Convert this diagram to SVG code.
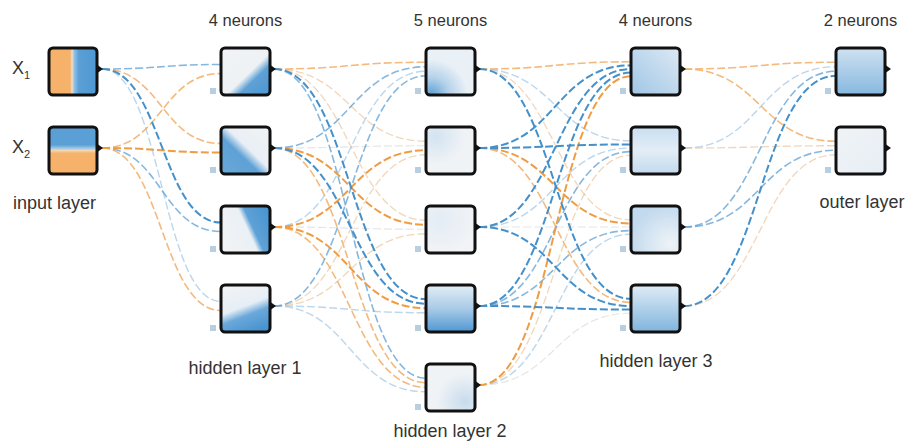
<svg xmlns="http://www.w3.org/2000/svg" width="907" height="443" viewBox="0 0 907 443">
<style>
.l{fill:none;stroke-dasharray:8 3}
.f{stroke:#cfcfcf;stroke-opacity:.55;stroke-width:1.2}
.ol{stroke:#eac49c;stroke-opacity:.7;stroke-width:1.3}
.bl{stroke:#8fbbdf;stroke-opacity:.6;stroke-width:1.4}
.om{stroke:#f1a85c;stroke-opacity:.8;stroke-width:1.6}
.bm{stroke:#5d9fd3;stroke-opacity:.75;stroke-width:1.6}
.os{stroke:#ef9c44;stroke-width:2}
.bs{stroke:#4490cb;stroke-width:2}
.box{stroke:#111;stroke-width:3}
.tri{fill:#111}
.sq{fill:#b9cfe0}
.t{font-family:"Liberation Sans",Arial,sans-serif;font-size:18px;fill:#333}
.tn{font-family:"Liberation Sans",Arial,sans-serif;font-size:16.5px;fill:#333;text-anchor:middle}
</style>
<defs>
<linearGradient id="gx1" x1="0" y1="0" x2="1" y2="0"><stop offset="0" stop-color="#f6b26b"/><stop offset=".44" stop-color="#f6b26b"/><stop offset=".48" stop-color="#f2ddc5"/><stop offset=".53" stop-color="#8ec0e6"/><stop offset=".62" stop-color="#5a9fd6"/><stop offset="1" stop-color="#4f98d2"/></linearGradient>
<linearGradient id="gx2" x1="0" y1="0" x2="0" y2="1"><stop offset="0" stop-color="#5a9fd6"/><stop offset=".38" stop-color="#5a9fd6"/><stop offset=".46" stop-color="#a7cbe8"/><stop offset=".5" stop-color="#f5d5b0"/><stop offset=".56" stop-color="#f6b26b"/><stop offset="1" stop-color="#f6b26b"/></linearGradient>
<linearGradient id="g11" x1="0" y1="0" x2="1" y2="1"><stop offset="0" stop-color="#f1f3f5"/><stop offset=".55" stop-color="#eef2f5"/><stop offset=".68" stop-color="#5ea1d6"/><stop offset="1" stop-color="#4b96d2"/></linearGradient>
<linearGradient id="g12" x1="1" y1="0" x2="0" y2="1"><stop offset="0" stop-color="#f1f3f5"/><stop offset=".45" stop-color="#e9eff5"/><stop offset=".6" stop-color="#5ea1d6"/><stop offset="1" stop-color="#6aa8da"/></linearGradient>
<linearGradient id="g13" x1=".1" y1=".72" x2="1" y2=".32"><stop offset="0" stop-color="#f1f3f5"/><stop offset=".5" stop-color="#eaf0f5"/><stop offset=".62" stop-color="#5ea1d6"/><stop offset="1" stop-color="#4b96d2"/></linearGradient>
<linearGradient id="g14" x1=".3" y1="0" x2=".7" y2="1"><stop offset="0" stop-color="#f1f3f5"/><stop offset=".45" stop-color="#e6eef5"/><stop offset=".64" stop-color="#6aa8da"/><stop offset="1" stop-color="#4793d0"/></linearGradient>
<radialGradient id="g21" cx=".1" cy="1" r=".75"><stop offset="0" stop-color="#5ba0d6"/><stop offset=".5" stop-color="#b5d2ea"/><stop offset="1" stop-color="#e9f0f6"/></radialGradient>
<radialGradient id="g22" cx=".2" cy=".2" r=".6"><stop offset="0" stop-color="#d3e3f0"/><stop offset="1" stop-color="#f0f3f6"/></radialGradient>
<radialGradient id="g23" cx=".3" cy=".3" r=".7"><stop offset="0" stop-color="#e3ecf4"/><stop offset="1" stop-color="#f1f3f6"/></radialGradient>
<linearGradient id="g24" x1="0" y1="0" x2="0" y2="1"><stop offset="0" stop-color="#e3edf5"/><stop offset=".5" stop-color="#a9cbe7"/><stop offset="1" stop-color="#4f98d3"/></linearGradient>
<radialGradient id="g25" cx=".8" cy=".8" r=".6"><stop offset="0" stop-color="#c8dced"/><stop offset="1" stop-color="#f0f3f6"/></radialGradient>
<linearGradient id="g31" x1="0" y1="1" x2="1" y2="0"><stop offset="0" stop-color="#9fc6e6"/><stop offset="1" stop-color="#dde9f3"/></linearGradient>
<linearGradient id="g32" x1="0" y1="0" x2="0" y2="1"><stop offset="0" stop-color="#c9def0"/><stop offset=".5" stop-color="#e3edf6"/><stop offset="1" stop-color="#c2daee"/></linearGradient>
<radialGradient id="g33" cx=".8" cy=".8" r=".8"><stop offset="0" stop-color="#eef3f7"/><stop offset="1" stop-color="#c3daee"/></radialGradient>
<linearGradient id="g34" x1="0" y1="0" x2="0" y2="1"><stop offset="0" stop-color="#e0ecf5"/><stop offset="1" stop-color="#7fb4de"/></linearGradient>
<linearGradient id="go1" x1="0" y1="0" x2="0" y2="1"><stop offset="0" stop-color="#cfe1f0"/><stop offset="1" stop-color="#86b8e0"/></linearGradient>
<linearGradient id="go2" x1="0" y1="0" x2="1" y2="1"><stop offset="0" stop-color="#f0f3f6"/><stop offset="1" stop-color="#e6eef5"/></linearGradient>
</defs>
<rect width="907" height="443" fill="#fff"/>
<g id="connectors">
<path class="l f" d="M274,148 C350,148 350,145.75 426,145.75"/>
<path class="l f" d="M274,227 C350,227 350,229.25 426,229.25"/>
<path class="l f" d="M479,227 C555,227 555,227 631,227"/>
<path class="l f" d="M479,385 C555,385 555,313.2 631,313.2"/>
<path class="l ol" d="M274,69 C350,69 350,141.25 426,141.25"/>
<path class="l ol" d="M274,69 C350,69 350,220.25 426,220.25"/>
<path class="l ol" d="M274,306 C350,306 350,154.75 426,154.75"/>
<path class="l ol" d="M274,306 C350,306 350,233.75 426,233.75"/>
<path class="l ol" d="M479,69 C555,69 555,219.8 631,219.8"/>
<path class="l ol" d="M479,385 C555,385 555,155.2 631,155.2"/>
<path class="l ol" d="M684,148 C760,148 760,145.75 836,145.75"/>
<path class="l ol" d="M684,306 C760,306 760,154.75 836,154.75"/>
<path class="l bl" d="M102,69 C161.5,69 161.5,301.5 221,301.5"/>
<path class="l bl" d="M274,227 C350,227 350,71.25 426,71.25"/>
<path class="l bl" d="M274,306 C350,306 350,312.75 426,312.75"/>
<path class="l bl" d="M274,306 C350,306 350,391.75 426,391.75"/>
<path class="l bl" d="M479,69 C555,69 555,140.8 631,140.8"/>
<path class="l bl" d="M479,227 C555,227 555,148 631,148"/>
<path class="l bl" d="M479,385 C555,385 555,234.2 631,234.2"/>
<path class="l bl" d="M684,148 C760,148 760,66.75 836,66.75"/>
<path class="l om" d="M102,69 C161.5,69 161.5,143.5 221,143.5"/>
<path class="l om" d="M102,148 C161.5,148 161.5,73.5 221,73.5"/>
<path class="l om" d="M102,148 C161.5,148 161.5,310.5 221,310.5"/>
<path class="l om" d="M274,69 C350,69 350,62.25 426,62.25"/>
<path class="l om" d="M274,148 C350,148 350,382.75 426,382.75"/>
<path class="l om" d="M274,227 C350,227 350,387.25 426,387.25"/>
<path class="l om" d="M479,69 C555,69 555,61.8 631,61.8"/>
<path class="l om" d="M479,148 C555,148 555,302.4 631,302.4"/>
<path class="l om" d="M684,69 C760,69 760,62.25 836,62.25"/>
<path class="l om" d="M684,69 C760,69 760,141.25 836,141.25"/>
<path class="l bm" d="M102,69 C161.5,69 161.5,64.5 221,64.5"/>
<path class="l bm" d="M102,148 C161.5,148 161.5,231.5 221,231.5"/>
<path class="l bm" d="M274,69 C350,69 350,378.25 426,378.25"/>
<path class="l bm" d="M274,148 C350,148 350,66.75 426,66.75"/>
<path class="l bm" d="M274,306 C350,306 350,75.75 426,75.75"/>
<path class="l bm" d="M479,306 C555,306 555,151.6 631,151.6"/>
<path class="l bm" d="M479,306 C555,306 555,230.6 631,230.6"/>
<path class="l bm" d="M684,227 C760,227 760,71.25 836,71.25"/>
<path class="l bm" d="M684,227 C760,227 760,150.25 836,150.25"/>
<path class="l os" d="M102,148 C161.5,148 161.5,152.5 221,152.5"/>
<path class="l os" d="M274,148 C350,148 350,224.75 426,224.75"/>
<path class="l os" d="M274,227 C350,227 350,150.25 426,150.25"/>
<path class="l os" d="M274,227 C350,227 350,308.25 426,308.25"/>
<path class="l os" d="M479,148 C555,148 555,223.4 631,223.4"/>
<path class="l os" d="M479,385 C555,385 555,76.2 631,76.2"/>
<path class="l bs" d="M102,69 C161.5,69 161.5,222.5 221,222.5"/>
<path class="l bs" d="M274,69 C350,69 350,299.25 426,299.25"/>
<path class="l bs" d="M274,148 C350,148 350,303.75 426,303.75"/>
<path class="l bs" d="M479,69 C555,69 555,298.8 631,298.8"/>
<path class="l bs" d="M479,148 C555,148 555,65.4 631,65.4"/>
<path class="l bs" d="M479,148 C555,148 555,144.4 631,144.4"/>
<path class="l bs" d="M479,227 C555,227 555,69 631,69"/>
<path class="l bs" d="M479,227 C555,227 555,306 631,306"/>
<path class="l bs" d="M479,306 C555,306 555,72.6 631,72.6"/>
<path class="l bs" d="M479,306 C555,306 555,309.6 631,309.6"/>
<path class="l bs" d="M684,306 C760,306 760,75.75 836,75.75"/>
</g>
<g id="in-x1"><rect class="box" x="49" y="48" width="48" height="47" rx="4" fill="url(#gx1)"/><polygon class="tri" points="96,64 103,69 96,74"/></g>
<g id="in-x2"><rect class="box" x="49" y="127" width="48" height="47" rx="4" fill="url(#gx2)"/><polygon class="tri" points="96,143 103,148 96,153"/></g>
<g id="h1-n1"><rect class="sq" x="210" y="88" width="6" height="6"/><rect class="box" x="221" y="48" width="49" height="47" rx="4" fill="url(#g11)"/><polygon class="tri" points="269,64 276,69 269,74"/></g>
<g id="h1-n2"><rect class="sq" x="210" y="167" width="6" height="6"/><rect class="box" x="221" y="127" width="49" height="47" rx="4" fill="url(#g12)"/><polygon class="tri" points="269,143 276,148 269,153"/></g>
<g id="h1-n3"><rect class="sq" x="210" y="246" width="6" height="6"/><rect class="box" x="221" y="206" width="49" height="47" rx="4" fill="url(#g13)"/><polygon class="tri" points="269,222 276,227 269,232"/></g>
<g id="h1-n4"><rect class="sq" x="210" y="325" width="6" height="6"/><rect class="box" x="221" y="285" width="49" height="47" rx="4" fill="url(#g14)"/><polygon class="tri" points="269,301 276,306 269,311"/></g>
<g id="h2-n1"><rect class="sq" x="415" y="88" width="6" height="6"/><rect class="box" x="426" y="48" width="49" height="47" rx="4" fill="url(#g21)"/><polygon class="tri" points="474,64 481,69 474,74"/></g>
<g id="h2-n2"><rect class="sq" x="415" y="167" width="6" height="6"/><rect class="box" x="426" y="127" width="49" height="47" rx="4" fill="url(#g22)"/><polygon class="tri" points="474,143 481,148 474,153"/></g>
<g id="h2-n3"><rect class="sq" x="415" y="246" width="6" height="6"/><rect class="box" x="426" y="206" width="49" height="47" rx="4" fill="url(#g23)"/><polygon class="tri" points="474,222 481,227 474,232"/></g>
<g id="h2-n4"><rect class="sq" x="415" y="325" width="6" height="6"/><rect class="box" x="426" y="285" width="49" height="47" rx="4" fill="url(#g24)"/><polygon class="tri" points="474,301 481,306 474,311"/></g>
<g id="h2-n5"><rect class="sq" x="415" y="404" width="6" height="6"/><rect class="box" x="426" y="364" width="49" height="47" rx="4" fill="url(#g25)"/><polygon class="tri" points="474,380 481,385 474,390"/></g>
<g id="h3-n1"><rect class="sq" x="620" y="88" width="6" height="6"/><rect class="box" x="631" y="48" width="49" height="47" rx="4" fill="url(#g31)"/><polygon class="tri" points="679,64 686,69 679,74"/></g>
<g id="h3-n2"><rect class="sq" x="620" y="167" width="6" height="6"/><rect class="box" x="631" y="127" width="49" height="47" rx="4" fill="url(#g32)"/><polygon class="tri" points="679,143 686,148 679,153"/></g>
<g id="h3-n3"><rect class="sq" x="620" y="246" width="6" height="6"/><rect class="box" x="631" y="206" width="49" height="47" rx="4" fill="url(#g33)"/><polygon class="tri" points="679,222 686,227 679,232"/></g>
<g id="h3-n4"><rect class="sq" x="620" y="325" width="6" height="6"/><rect class="box" x="631" y="285" width="49" height="47" rx="4" fill="url(#g34)"/><polygon class="tri" points="679,301 686,306 679,311"/></g>
<g id="out-n1"><rect class="sq" x="825" y="88" width="6" height="6"/><rect class="box" x="836" y="48" width="49" height="47" rx="4" fill="url(#go1)"/><polygon class="tri" points="884,64 891,69 884,74"/></g>
<g id="out-n2"><rect class="sq" x="825" y="167" width="6" height="6"/><rect class="box" x="836" y="127" width="49" height="47" rx="4" fill="url(#go2)"/><polygon class="tri" points="884,143 891,148 884,153"/></g>
<g id="labels">
<text class="t" x="12" y="74">X<tspan font-size="11" dy="5">1</tspan></text>
<text class="t" x="12" y="153">X<tspan font-size="11" dy="5">2</tspan></text>
<text class="t" x="13" y="209">input layer</text>
<text class="tn" x="245.5" y="26">4 neurons</text>
<text class="tn" x="450.5" y="26">5 neurons</text>
<text class="tn" x="655.5" y="26">4 neurons</text>
<text class="tn" x="860.5" y="26">2 neurons</text>
<text class="t" x="245" y="374" text-anchor="middle">hidden layer 1</text>
<text class="t" x="450" y="437" text-anchor="middle">hidden layer 2</text>
<text class="t" x="656" y="367" text-anchor="middle">hidden layer 3</text>
<text class="t" x="862" y="208" text-anchor="middle">outer layer</text>
</g>
</svg>
